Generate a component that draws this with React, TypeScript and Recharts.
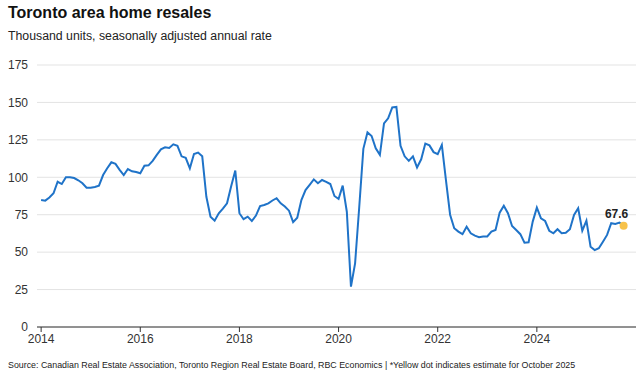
import React from "react";
import { LineChart, Line, XAxis, YAxis, CartesianGrid, LabelList } from "recharts";

const startYear = 2014;
const resales2014 = [84.8, 84.4, 86.5, 89.3, 97, 95.5, 100, 100, 99.5, 98, 96, 93];
const resales2015 = [93, 93.5, 94.4, 101.5, 106, 110, 109, 105, 101.5, 105.5, 104, 103.5];
const resales2016 = [102.7, 107.7, 108, 111, 115, 118.7, 120, 119.6, 122, 121, 114, 113];
const resales2017 = [106, 115.5, 116.5, 114, 87, 73.7, 71, 76, 79, 82.6, 94, 104.5];
const resales2018 = [76, 72, 73.7, 70.8, 74.4, 80.8, 81.5, 82.6, 84.5, 86, 82.6, 80.5];
const resales2019 = [77.7, 70, 73, 84.8, 91.5, 95, 98.6, 96, 98.2, 97, 95.5, 87.5];
const resales2020 = [85.5, 94.4, 77, 27, 42.5, 80, 119, 130, 127.6, 119.4, 115, 136];
const resales2021 = [139.4, 146.7, 147, 121, 114, 111, 114, 106.6, 112, 122.5, 121.3, 116.8];
const resales2022 = [115.5, 121.6, 98, 75, 66, 63.7, 62, 67, 62.6, 61, 60, 60.5];
const resales2023 = [60.5, 63.7, 64.8, 76.4, 81, 76, 67.5, 64.8, 62, 56.3, 56.6, 70.4];
const resales2024 = [79.7, 72.6, 70.8, 64.3, 62.6, 65.3, 62.6, 63, 65.3, 74.8, 79.3, 64.3];
const resales2025 = [71, 53.6, 51.4, 52.6, 57, 61.5, 69.3, 68.8, 69.7, 67.6];

const yTicks = [0, 25, 50, 75, 100, 125, 150, 175];
const tickYears = [2014, 2016, 2018, 2020, 2022, 2024];

const allValues = [
  ...resales2014, ...resales2015, ...resales2016, ...resales2017,
  ...resales2018, ...resales2019, ...resales2020, ...resales2021,
  ...resales2022, ...resales2023, ...resales2024, ...resales2025,
];
const lastIndex = allValues.length - 1;
const data = allValues.map((v, i) => ({
  m: i,
  value: v,
  estimate: i === lastIndex ? v : null,
}));
const xTicks = tickYears.map((y) => (y - startYear) * 12);

const FONT = "'Liberation Sans', Arial, Helvetica, sans-serif";

export default function App() {
  return (
    <div style={{ position: "absolute", left: 0, top: 0, width: 640, height: 384, background: "#fff", fontFamily: FONT }}>
      <div style={{ position: "absolute", left: 8, top: 4, fontSize: 16, fontWeight: "bold", color: "#111", whiteSpace: "nowrap" }}>
        Toronto area home resales
      </div>
      <div style={{ position: "absolute", left: 8, top: 29, fontSize: 12.3, color: "#222", whiteSpace: "nowrap" }}>
        Thousand units, seasonally adjusted annual rate
      </div>
      <div style={{ position: "absolute", left: 0, top: 0 }}>
        <LineChart width={640} height={384} data={data} margin={{ top: 65, right: 4, bottom: 27, left: 0 }}>
          <CartesianGrid vertical={false} stroke="#e3e3e3" strokeWidth={1} />
          <XAxis
            dataKey="m"
            type="number"
            domain={[-1, 144]}
            ticks={xTicks}
            tickFormatter={(m: number) => String(startYear + m / 12)}
            axisLine={{ stroke: "#333", strokeWidth: 1 }}
            tickLine={{ stroke: "#333" }}
            tickSize={5}
            tickMargin={2}
            height={30}
            tick={{ fontSize: 12, fill: "#333", fontFamily: FONT }}
          />
          <YAxis
            type="number"
            domain={[0, 175]}
            ticks={yTicks}
            axisLine={false}
            tickLine={false}
            width={37}
            tickMargin={3}
            tick={{ fontSize: 12, fill: "#333", fontFamily: FONT }}
          />
          <Line
            dataKey="value"
            stroke="#1f73c8"
            strokeWidth={2}
            dot={false}
            isAnimationActive={false}
          />
          <Line
            dataKey="estimate"
            stroke="none"
            dot={{ r: 4, fill: "#f7c24a", stroke: "none" }}
            activeDot={false}
            isAnimationActive={false}
          >
            <LabelList
              dataKey="estimate"
              position="top"
              offset={6}
              content={(props: any) => {
                const { x, y, value } = props;
                if (value == null) return null;
                return (
                  <text x={x - 7} y={y - 8} textAnchor="middle" fontSize={12} fontWeight="bold" fill="#222" fontFamily={FONT}>
                    {value}
                  </text>
                );
              }}
            />
          </Line>
        </LineChart>
      </div>
      <div style={{ position: "absolute", left: 8, top: 360, fontSize: 8.85, color: "#222", whiteSpace: "nowrap" }}>
        Source: Canadian Real Estate Association, Toronto Region Real Estate Board, RBC Economics | *Yellow dot indicates estimate for October 2025
      </div>
    </div>
  );
}
